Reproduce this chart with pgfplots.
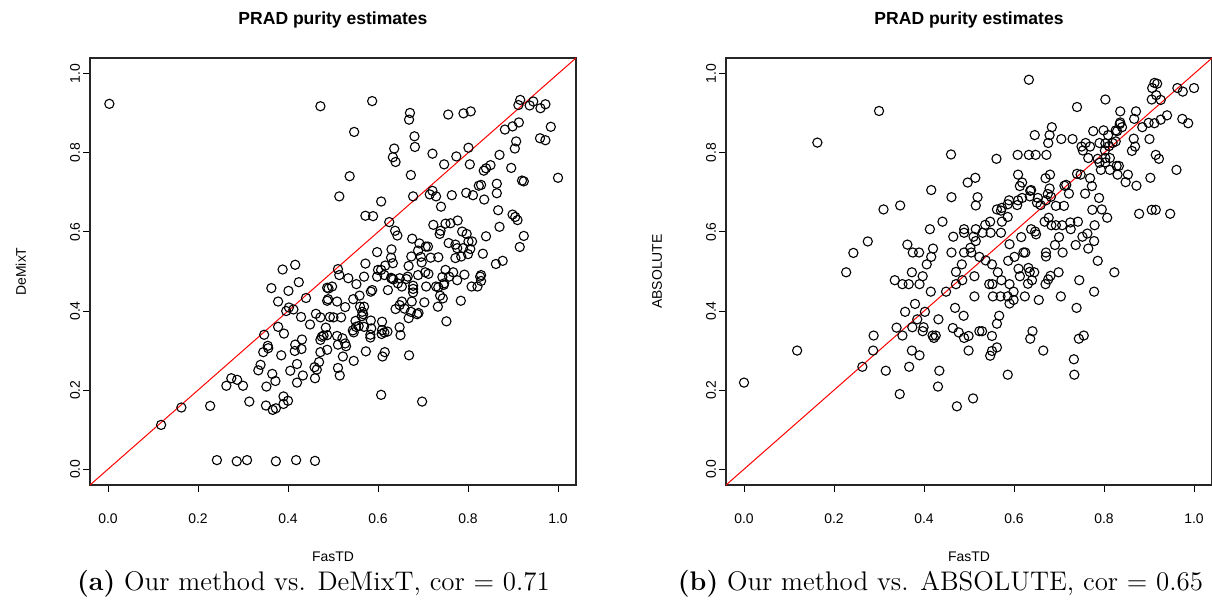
\documentclass[border=0pt]{standalone}
\usepackage{pgfplots}
\pgfplotsset{compat=1.18}
\usepackage{fontspec}
\newfontfamily\rsans{Liberation Sans}
\begin{document}
\begin{tikzpicture}[x=1bp,y=1bp]
\path[use as bounding box] (0,0) rectangle (606,303);
\pgfplotsset{rstyle/.style={
  scale only axis, width=243bp, height=213.5bp,
  xmin=-0.04,xmax=1.04,ymin=-0.04,ymax=1.04,
  xtick={0,0.2,0.4,0.6,0.8,1.0}, xticklabels={0.0,0.2,0.4,0.6,0.8,1.0},
  ytick={0,0.2,0.4,0.6,0.8,1.0}, yticklabels={0.0,0.2,0.4,0.6,0.8,1.0},
  tick align=outside, xtick pos=bottom, ytick pos=left,
  major tick length=3.5bp,
  tick style={black, line width=0.5bp},
  axis line style={line width=0.6bp, black!85},
  ticklabel style={font=\rsans\fontsize{7}{8}\selectfont},
  xticklabel shift=7.5bp,
  yticklabel shift=-2bp,
  yticklabel style={rotate=90, anchor=south},
  clip=true,
  anchor=south west,
}}
\begin{axis}[rstyle, at={(45bp,60.5bp)}]
\addplot[red, line width=0.5bp] coordinates {(-0.1,-0.1) (1.1,1.1)};
\addplot[only marks, mark=o, mark size=2.3bp, mark options={line width=0.55bp, black}] coordinates {
(0.003,0.924)(0.472,0.918)
(0.587,0.931)(0.547,0.853)(0.537,0.741)(0.514,0.690)(0.607,0.677)
(0.671,0.901)(0.669,0.884)(0.681,0.842)(0.682,0.815)(0.636,0.811)(0.633,0.789)(0.639,0.777)(0.673,0.744)(0.678,0.690)
(0.721,0.798)(0.756,0.897)(0.790,0.900)(0.806,0.905)(0.747,0.771)(0.774,0.791)(0.801,0.813)(0.804,0.771)
(0.721,0.704)(0.715,0.695)(0.729,0.690)(0.764,0.693)(0.796,0.699)(0.811,0.693)(0.824,0.717)(0.829,0.719)(0.836,0.682)(0.864,0.722)(0.864,0.698)
(0.835,0.755)(0.840,0.761)(0.850,0.769)(0.870,0.795)(0.896,0.762)(0.904,0.811)(0.907,0.829)(0.882,0.859)(0.899,0.867)(0.913,0.877)
(0.916,0.934)(0.912,0.921)(0.945,0.930)(0.937,0.920)(0.961,0.913)(0.972,0.923)(0.984,0.866)(0.960,0.837)(0.972,0.832)
(0.920,0.730)(0.924,0.728)(1.000,0.737)
(0.388,0.505)(0.416,0.517)(0.424,0.473)(0.363,0.458)(0.401,0.451)(0.440,0.433)(0.378,0.424)(0.402,0.409)(0.396,0.400)(0.412,0.404)(0.429,0.385)(0.378,0.360)(0.391,0.343)(0.347,0.340)(0.431,0.328)(0.449,0.366)(0.462,0.393)(0.472,0.384)(0.484,0.358)(0.487,0.459)(0.490,0.457)(0.487,0.426)(0.489,0.430)(0.493,0.385)(0.475,0.335)(0.479,0.338)(0.487,0.339)(0.472,0.327)(0.416,0.315)(0.355,0.312)
(0.572,0.641)(0.589,0.640)(0.625,0.625)(0.638,0.603)(0.643,0.591)(0.676,0.583)(0.692,0.571)(0.706,0.563)(0.711,0.563)(0.689,0.553)(0.598,0.549)(0.630,0.556)(0.629,0.535)(0.695,0.537)(0.674,0.538)(0.697,0.523)(0.717,0.535)(0.734,0.536)(0.572,0.520)(0.633,0.521)(0.616,0.515)(0.668,0.514)(0.511,0.506)(0.514,0.491)(0.534,0.483)(0.569,0.487)(0.600,0.504)(0.607,0.504)(0.598,0.487)(0.614,0.491)(0.631,0.482)(0.634,0.480)(0.629,0.484)(0.648,0.483)(0.663,0.481)(0.666,0.487)(0.689,0.491)(0.705,0.498)(0.712,0.494)
(0.552,0.468)(0.559,0.439)(0.545,0.430)(0.584,0.449)(0.587,0.453)(0.622,0.453)(0.644,0.470)(0.653,0.462)(0.678,0.464)(0.678,0.456)(0.678,0.447)(0.707,0.462)(0.729,0.462)(0.743,0.486)(0.750,0.504)(0.758,0.487)(0.767,0.498)(0.776,0.478)(0.792,0.492)(0.747,0.470)(0.746,0.466)(0.734,0.460)(0.738,0.439)(0.744,0.432)(0.703,0.422)(0.675,0.424)(0.653,0.424)(0.648,0.415)(0.639,0.405)(0.659,0.406)(0.673,0.398)(0.668,0.382)(0.690,0.395)(0.687,0.392)(0.733,0.411)(0.784,0.426)(0.752,0.374)(0.808,0.462)(0.821,0.462)(0.829,0.476)(0.827,0.487)(0.829,0.491)
(0.509,0.424)(0.527,0.410)(0.518,0.384)(0.501,0.384)(0.560,0.411)(0.569,0.411)(0.565,0.398)(0.567,0.392)(0.564,0.387)(0.584,0.376)(0.609,0.373)(0.550,0.375)(0.551,0.360)(0.557,0.362)(0.569,0.360)(0.544,0.351)(0.546,0.346)(0.585,0.356)(0.609,0.352)(0.608,0.342)(0.614,0.346)(0.621,0.348)(0.583,0.340)(0.583,0.333)(0.648,0.359)(0.650,0.339)(0.509,0.337)(0.521,0.331)(0.527,0.318)(0.498,0.462)
(0.740,0.664)(0.723,0.618)(0.737,0.595)(0.739,0.603)(0.750,0.621)(0.761,0.622)(0.777,0.629)(0.867,0.655)(0.870,0.613)(0.899,0.644)(0.905,0.638)(0.910,0.630)(0.840,0.589)(0.787,0.601)(0.797,0.595)(0.809,0.576)(0.801,0.576)(0.757,0.572)(0.772,0.568)(0.776,0.559)(0.789,0.559)(0.805,0.557)(0.800,0.544)(0.785,0.538)(0.772,0.534)(0.833,0.545)(0.924,0.590)(0.915,0.562)(0.877,0.527)(0.862,0.519)
(0.118,0.112)(0.163,0.156)(0.227,0.160)(0.263,0.211)(0.274,0.230)(0.287,0.226)(0.300,0.211)(0.314,0.171)(0.334,0.250)(0.339,0.264)(0.345,0.296)(0.356,0.306)(0.352,0.209)(0.365,0.241)(0.372,0.223)(0.385,0.288)(0.351,0.161)(0.366,0.150)(0.373,0.154)(0.390,0.184)(0.390,0.165)(0.400,0.173)(0.405,0.249)(0.420,0.266)(0.420,0.219)(0.415,0.299)(0.430,0.304)(0.433,0.237)(0.460,0.230)(0.459,0.258)(0.464,0.252)(0.469,0.271)(0.472,0.296)(0.487,0.302)
(0.242,0.023)(0.286,0.020)(0.309,0.023)(0.373,0.020)(0.418,0.023)(0.460,0.021)
(0.511,0.315)(0.529,0.311)(0.522,0.285)(0.546,0.274)(0.573,0.298)(0.615,0.296)(0.610,0.285)(0.669,0.288)(0.511,0.256)(0.515,0.237)(0.607,0.188)(0.698,0.171)
};
\end{axis}
\begin{axis}[rstyle, at={(363bp,60.5bp)}]
\addplot[red, line width=0.5bp] coordinates {(-0.1,-0.1) (1.1,1.1)};
\addplot[only marks, mark=o, mark size=2.3bp, mark options={line width=0.55bp, black}] coordinates {
(0.300,0.906)(0.163,0.826)(0.460,0.796)(0.416,0.706)(0.461,0.688)(0.497,0.725)
(0.633,0.985)(0.740,0.916)(0.803,0.935)(0.836,0.905)(0.836,0.877)(0.835,0.873)(0.840,0.865)(0.829,0.855)(0.871,0.905)(0.867,0.886)(0.907,0.964)(0.918,0.975)(0.912,0.977)(0.906,0.935)(0.916,0.946)(0.926,0.934)(0.963,0.964)(0.975,0.955)(1.000,0.964)(0.885,0.865)(0.899,0.876)(0.912,0.875)(0.926,0.884)(0.940,0.895)(0.974,0.886)(0.987,0.875)(0.901,0.835)(0.915,0.795)(0.922,0.785)(0.961,0.757)(0.903,0.737)
(0.776,0.855)(0.799,0.857)(0.809,0.845)(0.826,0.857)(0.790,0.825)(0.803,0.824)(0.819,0.825)(0.802,0.806)(0.811,0.817)(0.826,0.829)(0.769,0.816)(0.750,0.816)(0.753,0.806)(0.759,0.825)(0.765,0.787)(0.866,0.836)(0.869,0.816)(0.862,0.805)(0.786,0.785)(0.790,0.775)(0.803,0.787)(0.813,0.787)(0.803,0.776)(0.793,0.757)(0.813,0.757)(0.828,0.767)(0.833,0.767)(0.830,0.745)(0.853,0.745)(0.848,0.726)(0.872,0.717)(0.769,0.736)(0.773,0.716)(0.740,0.747)(0.748,0.745)(0.758,0.697)(0.789,0.686)
(0.705,0.835)(0.730,0.835)(0.684,0.865)(0.679,0.845)(0.676,0.825)(0.646,0.845)(0.561,0.785)(0.608,0.795)(0.633,0.795)(0.648,0.795)(0.672,0.795)(0.609,0.745)(0.618,0.725)(0.613,0.716)(0.638,0.706)(0.636,0.704)(0.670,0.736)(0.680,0.745)(0.712,0.717)(0.716,0.719)(0.722,0.697)(0.679,0.710)(0.675,0.696)(0.682,0.689)(0.514,0.737)(0.519,0.688)(0.589,0.680)(0.609,0.680)(0.618,0.686)(0.635,0.690)(0.653,0.686)(0.671,0.680)
(0.310,0.657)(0.347,0.667)(0.275,0.576)(0.243,0.547)(0.227,0.498)(0.363,0.568)(0.375,0.548)(0.389,0.548)(0.420,0.558)(0.416,0.537)(0.406,0.518)(0.413,0.607)(0.441,0.626)(0.465,0.588)(0.489,0.607)(0.489,0.598)(0.461,0.548)(0.489,0.548)(0.484,0.518)(0.471,0.499)(0.485,0.478)(0.471,0.468)(0.373,0.498)(0.397,0.488)(0.335,0.478)(0.352,0.468)(0.366,0.468)(0.390,0.468)(0.415,0.449)(0.449,0.449)(0.380,0.418)(0.358,0.398)(0.402,0.398)(0.385,0.379)(0.432,0.379)(0.469,0.408)(0.488,0.388)(0.374,0.359)(0.399,0.359)(0.397,0.349)(0.339,0.358)(0.352,0.338)(0.288,0.338)(0.419,0.338)(0.426,0.338)(0.422,0.332)(0.464,0.357)(0.477,0.346)(0.489,0.332)
(0.515,0.667)(0.562,0.657)(0.571,0.654)(0.573,0.661)(0.586,0.670)(0.607,0.668)(0.651,0.674)(0.659,0.668)(0.693,0.666)(0.711,0.666)
(0.586,0.638)(0.573,0.626)(0.547,0.626)(0.536,0.618)(0.515,0.607)(0.530,0.598)(0.548,0.598)(0.571,0.598)(0.510,0.588)(0.515,0.577)(0.503,0.560)(0.505,0.548)(0.523,0.537)(0.537,0.528)(0.551,0.518)(0.590,0.569)(0.616,0.587)(0.638,0.607)(0.647,0.601)(0.649,0.594)(0.668,0.626)(0.683,0.617)(0.693,0.617)(0.707,0.617)(0.677,0.636)(0.726,0.607)(0.725,0.624)(0.742,0.626)(0.774,0.656)(0.795,0.657)(0.807,0.636)(0.779,0.617)(0.878,0.646)(0.906,0.656)(0.915,0.656)(0.947,0.646)(0.700,0.587)(0.691,0.567)(0.708,0.548)(0.671,0.548)(0.671,0.538)(0.625,0.548)(0.621,0.548)(0.601,0.537)(0.587,0.527)(0.763,0.596)(0.752,0.588)(0.737,0.567)(0.778,0.577)(0.765,0.558)(0.786,0.527)(0.823,0.498)
(0.610,0.507)(0.632,0.509)(0.635,0.499)(0.645,0.498)(0.613,0.488)(0.640,0.478)(0.631,0.469)(0.564,0.498)(0.572,0.478)(0.590,0.468)(0.545,0.468)(0.552,0.468)(0.512,0.488)(0.681,0.489)(0.676,0.480)(0.670,0.468)(0.699,0.498)(0.745,0.478)(0.778,0.449)(0.599,0.449)(0.586,0.437)(0.570,0.437)(0.553,0.437)(0.512,0.437)(0.599,0.428)(0.590,0.419)(0.624,0.437)(0.655,0.428)(0.704,0.437)(0.739,0.408)(0.567,0.388)(0.562,0.368)(0.523,0.349)(0.529,0.349)(0.551,0.337)(0.499,0.337)(0.641,0.349)(0.636,0.330)(0.755,0.338)(0.744,0.330)
(0.0,0.219)(0.118,0.300)(0.287,0.300)(0.263,0.259)(0.315,0.249)(0.346,0.190)(0.367,0.259)(0.373,0.300)(0.390,0.288)(0.434,0.249)(0.431,0.209)(0.473,0.159)
(0.499,0.300)(0.509,0.179)(0.547,0.287)(0.551,0.299)(0.562,0.308)(0.586,0.239)(0.665,0.300)(0.733,0.278)(0.734,0.239)
};
\end{axis}
\node[font=\rsans\bfseries\fontsize{8.8}{10}\selectfont] at (166.5,293) {PRAD purity estimates};
\node[font=\rsans\bfseries\fontsize{8.8}{10}\selectfont] at (484.5,293) {PRAD purity estimates};
\node[font=\rsans\fontsize{7}{8}\selectfont] at (166.5,24.5) {FasTD};
\node[font=\rsans\fontsize{7}{8}\selectfont] at (484.5,24.5) {FasTD};
\node[font=\rsans\fontsize{7}{8}\selectfont, rotate=90] at (10.5,167.25) {DeMixT};
\node[font=\rsans\fontsize{7}{8}\selectfont, rotate=90] at (328.5,167.25) {ABSOLUTE};
\node[font=\fontsize{13.5}{15}\selectfont] at (156.75,11) {\textbf{(a)} Our method vs. DeMixT, cor = 0.71};
\node[font=\fontsize{13.5}{15}\selectfont] at (470.25,11) {\textbf{(b)} Our method vs. ABSOLUTE, cor = 0.65};
\end{tikzpicture}
\end{document}
